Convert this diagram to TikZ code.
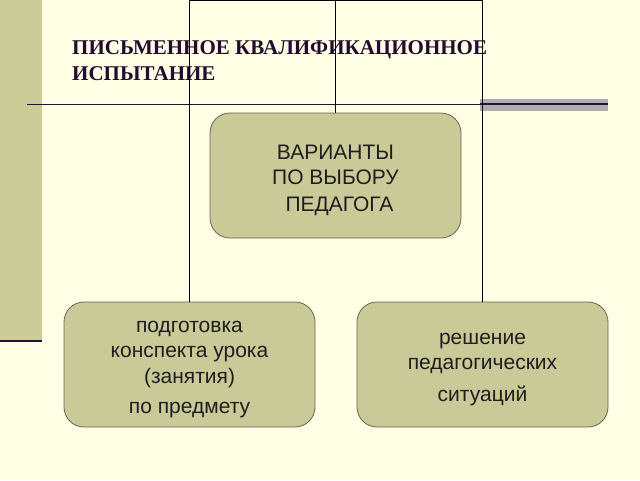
\documentclass[tikz,border=0pt]{standalone}
\usepackage{fontspec}
\setmainfont{Liberation Serif}
\newfontfamily\boxfont{Liberation Sans}
\definecolor{bgcol}{HTML}{FFFFE6}
\definecolor{barcol}{HTML}{CCCC99}
\definecolor{boxcol}{HTML}{CACA99}
\definecolor{boxline}{HTML}{66664F}
\definecolor{titlecol}{HTML}{220B2E}
\definecolor{rulecol}{HTML}{2A0F30}
\definecolor{bandcol}{HTML}{B0ADB0}
\definecolor{textcol}{HTML}{1E1E1E}
\tikzset{
  box/.style={draw=boxline, line width=0.8pt, fill=boxcol, rounded corners=20pt,
    minimum width=251pt, minimum height=125pt, inner sep=0pt},
  boxtext/.style={inner sep=0pt, align=center, yshift=-5pt,
    text=textcol, font=\boxfont\fontsize{21}{25.5}\selectfont},
  conn/.style={draw=black, line width=1.5pt},
  title/.style={anchor=base west, inner sep=0pt, align=left, text=titlecol,
    font=\bfseries\fontsize{21}{26}\selectfont}
}
\begin{document}
\begin{tikzpicture}[x=1pt,y=-1pt]
\useasboundingbox (0,0) rectangle (640,480);
\fill[bgcol] (0,0) rectangle (640,480);
% left bar
\fill[barcol] (0,0) rectangle (42,340);
\draw[rulecol, line width=2pt] (0,341) -- (42,341);
% rule with band
\fill[bandcol] (480,99) rectangle (608,111);
\draw[rulecol, line width=0.9pt] (27,104) -- (480,104);
\draw[rulecol, line width=1.6pt] (480,104) -- (608,104);
% title
\node[title] (ttl) at (72,80) {ПИСЬМЕННОЕ КВАЛИФИКАЦИОННОЕ\\ИСПЫТАНИЕ};
% boxes
\node[box] (mid) at (335.5,175.5) {};
\node[box] (lft) at (189.5,364.5) {};
\node[box] (rgt) at (482.5,364.5) {};
\node[boxtext] (midt) at (mid.center) {ВАРИАНТЫ\\ПО ВЫБОРУ\\[1.5pt]\hspace*{8pt}ПЕДАГОГА};
\node[boxtext] (lftt) at (lft.center) {подготовка\\конспекта урока\\(занятия)\\[5pt]по предмету};
\node[boxtext] (rgtt) at (rgt.center) {решение\\педагогических\\[6pt]ситуаций};
% connectors
\coordinate (top) at (335.5,0.7);
\draw[conn] (top) -- (mid.north);
\draw[conn] (top) -| (lft.north);
\draw[conn] (top) -| (rgt.north);
\end{tikzpicture}
\end{document}
